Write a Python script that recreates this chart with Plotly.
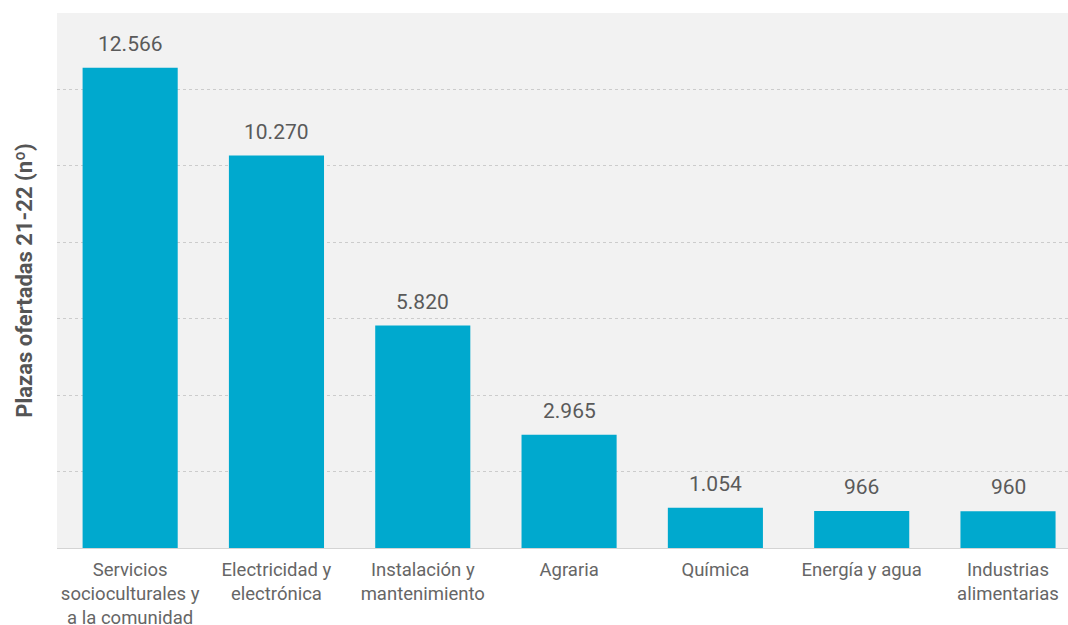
import plotly.graph_objects as go

# Plazas ofertadas por familia profesional, curso 21-22
familias = [
    "Servicios<br>socioculturales y<br>a la comunidad",
    "Electricidad y<br>electrónica",
    "Instalación y<br>mantenimiento",
    "Agraria",
    "Química",
    "Energía y agua",
    "Industrias<br>alimentarias",
]
plazas = [12566, 10270, 5820, 2965, 1054, 966, 960]

BAR_COLOR = "#00a9ce"
TEXT_COLOR = "#5a5a5a"
FONT = "Roboto"

fig = go.Figure(
    go.Bar(
        x=list(range(len(familias))),
        y=plazas,
        marker=dict(color=BAR_COLOR, line=dict(width=0)),
        hoverinfo="skip",
    )
)

# value labels above each bar, Spanish thousands separator
for i, v in enumerate(plazas):
    fig.add_annotation(
        x=i, y=v, text=f"{v:,}".replace(",", "."),
        showarrow=False, yanchor="bottom", yshift=10,
        font=dict(family=FONT, size=21, color=TEXT_COLOR),
    )

fig.update_layout(
    width=1068, height=625,
    margin=dict(l=57, r=0, t=13, b=77),
    paper_bgcolor="white",
    plot_bgcolor="#f2f2f2",
    bargap=0.35,
    showlegend=False,
    font=dict(family=FONT, color=TEXT_COLOR),
)

fig.update_xaxes(
    tickmode="array",
    tickvals=list(range(len(familias))),
    ticktext=familias,
    range=[-0.5, 6.41],
    tickfont=dict(family=FONT, size=18.5, color="#666666"),
    ticks="",
    ticklabelstandoff=5,
    showgrid=False,
    showline=True, linecolor="#d4d4d4", linewidth=1,
    automargin=False,
    fixedrange=True,
)

fig.update_yaxes(
    range=[0, 14001],
    dtick=2000,
    showticklabels=False,
    ticks="",
    showgrid=True, gridcolor="#cccccc", griddash="dot", gridwidth=1,
    zeroline=False,
    automargin=False,
    title=dict(
        text="<b>Plazas ofertadas 21-22 (nº)</b>",
        font=dict(family=FONT, size=22, color="#555555"),
        standoff=17,
    ),
    fixedrange=True,
)

fig.write_html("out.html")
